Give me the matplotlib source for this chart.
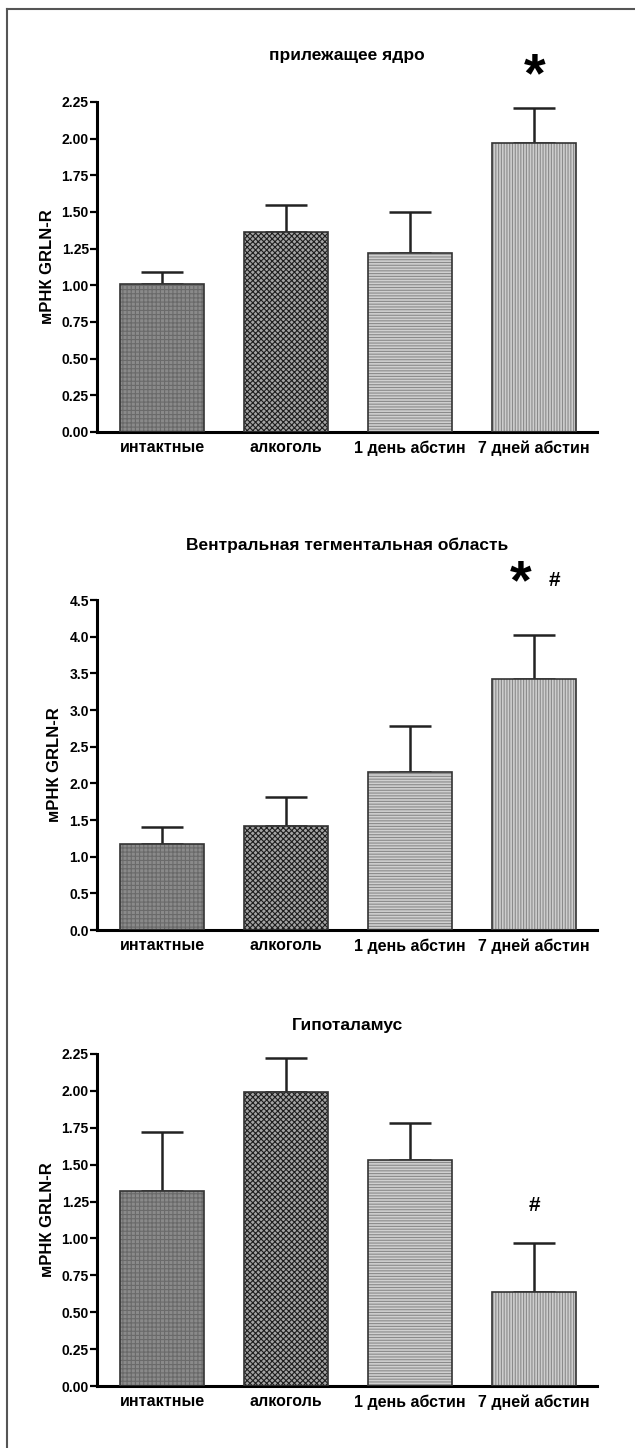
import matplotlib.pyplot as plt
from matplotlib.lines import Line2D

plt.rcParams["font.family"] = ["Liberation Sans", "DejaVu Sans"]
plt.rcParams["font.weight"] = "bold"
plt.rcParams["hatch.linewidth"] = 0.8

groups = ["интактные", "алкоголь", "1 день абстин", "7 дней абстин"]

nacc_means = [1.01, 1.36, 1.22, 1.97]
nacc_sem = [0.08, 0.19, 0.28, 0.24]

vta_means = [1.17, 1.42, 2.16, 3.42]
vta_sem = [0.23, 0.39, 0.62, 0.60]

hyp_means = [1.32, 1.99, 1.53, 0.64]
hyp_sem = [0.40, 0.23, 0.25, 0.33]

titles = ["прилежащее ядро",
          "Вентральная тегментальная область",
          "Гипоталамус"]
yticks_list = [[0, 0.25, 0.5, 0.75, 1.0, 1.25, 1.5, 1.75, 2.0, 2.25],
               [0, 0.5, 1.0, 1.5, 2.0, 2.5, 3.0, 3.5, 4.0, 4.5],
               [0, 0.25, 0.5, 0.75, 1.0, 1.25, 1.5, 1.75, 2.0, 2.25]]
ytick_fmt = ["{:.2f}", "{:.1f}", "{:.2f}"]
# significance marks: (text, bar index, x offset, y in data units)
marks = [[("*", 3, 0.0, 2.42)],
         [("*", 3, -0.11, 4.72), ("#", 3, 0.16, 4.76)],
         [("#", 3, 0.0, 1.22)]]

face = ["#8a8a8a", "#a4a4a4", "#d0d0d0", "#cecece"]
hatch = ["++++", "xxxxxx", "------", "||||||"]
hatch_col = ["#6a6a6a", "#1e1e1e", "#8a8a8a", "#8a8a8a"]

fig = plt.figure(figsize=(6.35, 14.48), dpi=100)
fig.add_artist(Line2D([0.011, 0.011], [0.0, 0.994], color="#555555",
                      lw=1.5, transform=fig.transFigure))
fig.add_artist(Line2D([0.011, 1.0], [0.994, 0.994], color="#555555",
                      lw=1.5, transform=fig.transFigure))

boxes = [[0.153, 0.7017, 0.7874, 0.2279],
         [0.153, 0.3577, 0.7874, 0.2279],
         [0.153, 0.0428, 0.7874, 0.2293]]
title_pad = [30, 36, 17]
data = [(nacc_means, nacc_sem), (vta_means, vta_sem), (hyp_means, hyp_sem)]

for i, (means, sem) in enumerate(data):
    ax = fig.add_axes(boxes[i])
    x = range(len(groups))
    for j in x:
        ax.bar(j, means[j], width=0.68, color=face[j], hatch=hatch[j],
               edgecolor=hatch_col[j], linewidth=0, zorder=2)
        ax.bar(j, means[j], width=0.68, fill=False,
               edgecolor="#333333", linewidth=1.2, zorder=3)
    ax.errorbar(list(x), means, yerr=[[0] * 4, sem], fmt="none",
                ecolor="#222222", elinewidth=1.8, capsize=15, capthick=1.8,
                zorder=1)
    ax.set_xlim(-0.524, 3.508)
    ax.set_ylim(0, yticks_list[i][-1])
    ax.set_yticks(yticks_list[i])
    ax.set_yticklabels([ytick_fmt[i].format(v) for v in yticks_list[i]])
    ax.set_xticks(list(x))
    ax.set_xticklabels(groups)
    ax.tick_params(axis="y", length=5, width=1.6, labelsize=10, pad=1)
    ax.tick_params(axis="x", length=0, labelsize=11.5, pad=6)
    for s in ["top", "right"]:
        ax.spines[s].set_visible(False)
    for s in ["left", "bottom"]:
        ax.spines[s].set_linewidth(2.2)
    ax.set_ylabel("мРНК GRLN-R", fontsize=12, fontweight="bold", labelpad=5)
    ax.set_title(titles[i], fontsize=12.5, fontweight="bold",
                 pad=title_pad[i])
    for text, j, dx, yv in marks[i]:
        size = 40 if text == "*" else 15
        ax.text(j + dx, yv, text, ha="center", va="center",
                fontsize=size, fontweight="bold", clip_on=False)

fig.savefig("out.png", dpi=100)
